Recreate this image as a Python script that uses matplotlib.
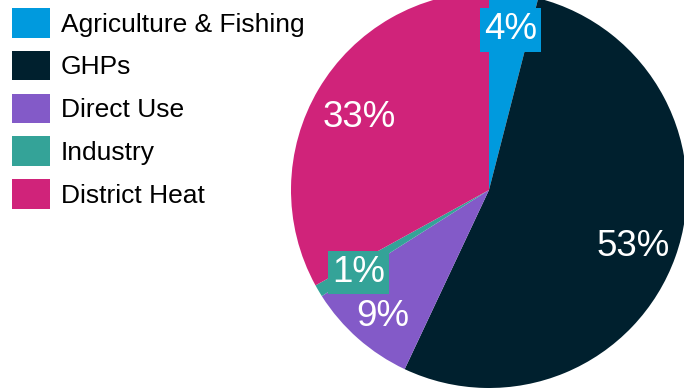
import matplotlib
matplotlib.use("Agg")
import matplotlib.pyplot as plt
import numpy as np

plt.rcParams['font.family'] = ['Liberation Sans', 'DejaVu Sans']

# datos del grafico
categorias = ["Agriculture & Fishing", "GHPs", "Direct Use", "Industry", "District Heat"]
valores = [4, 53, 9, 1, 33]
colores = ["#009ADE", "#00202E", "#835AC8", "#34A398", "#D0237A"]

# distancia radial de cada etiqueta (fraccion del radio)
dist_etiquetas = [0.84, 0.77, 0.82, 0.77, 0.77]

centro = (489, 198)
radio = 198

fig = plt.figure(figsize=(6.84, 3.88), dpi=100)
ax = fig.add_axes([0, 0, 1, 1])

wedges, textos, autotextos = ax.pie(
    valores,
    colors=colores,
    startangle=90,
    counterclock=False,
    radius=radio,
    center=centro,
    autopct=lambda p: f"{p:.0f}%",
    pctdistance=0.8,
    textprops={"color": "white", "fontsize": 26.5},
    frame=True,
)

# cajas del color de cada porcion (solo las pequeñas) y ajuste de posicion
for w, t, d, v in zip(wedges, autotextos, dist_etiquetas, valores):
    ang = np.deg2rad((w.theta1 + w.theta2) / 2)
    t.set_position((centro[0] + d * radio * np.cos(ang) + 1,
                    centro[1] + d * radio * np.sin(ang) - 5))
    if v < 5:
        t.set_bbox(dict(facecolor=w.get_facecolor(), edgecolor="none", pad=3))

ax.set_xlim(0, 684)
ax.set_ylim(0, 388)
ax.set_aspect("equal")
ax.axis("off")

ax.legend(
    wedges, categorias,
    loc="upper left",
    bbox_to_anchor=(12 / 684, 1 - 8 / 388),
    bbox_transform=fig.transFigure,
    frameon=False,
    fontsize=19,
    handlelength=1.44,
    handleheight=1.35,
    handletextpad=0.4,
    labelspacing=0.5,
    borderpad=0,
    borderaxespad=0,
)

fig.savefig("out.png", dpi=100)
